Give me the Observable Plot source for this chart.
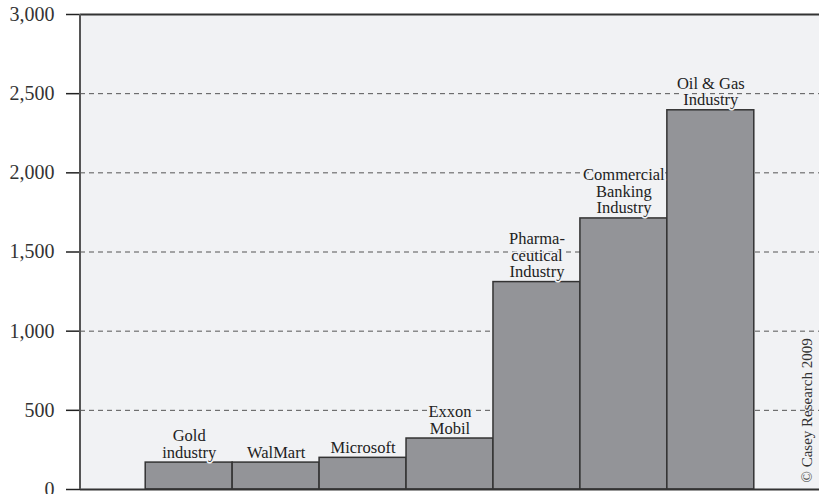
<!DOCTYPE html>
<html>
<head>
<meta charset="utf-8">
<script src="https://cdn.jsdelivr.net/npm/d3@7"></script>
<script src="https://cdn.jsdelivr.net/npm/@observablehq/plot@0.6"></script>
<style>
  html, body { margin: 0; padding: 0; background: #ffffff; }
</style>
</head>
<body>
<div id="chart"></div>
<script>
const categories = ["Gold", "WalMart", "Microsoft", "Exxon", "Pharma", "Banking", "OilGas"];
const labels = ["Gold\nindustry", "WalMart", "Microsoft", "Exxon\nMobil", "Pharma-\nceutical\nIndustry", "Commercial\nBanking\nIndustry", "Oil & Gas\nIndustry"];
const values = [170, 170, 200, 322, 1310, 1712, 2395];
const yTicks = [0, 500, 1000, 1500, 2000, 2500, 3000];
const gridValues = [500, 1000, 1500, 2000, 2500];
const credit = "© Casey Research 2009";

const data = categories.map((c, i) => ({name: c, label: labels[i], value: values[i]}));
const bg = "#f1f2f4";
const serif = "'Liberation Serif', 'DejaVu Serif', serif";

const leftLine = (index, scales, values, dims) => {
  const g = document.createElementNS("http://www.w3.org/2000/svg", "line");
  g.setAttribute("x1", dims.marginLeft);
  g.setAttribute("x2", dims.marginLeft);
  g.setAttribute("y1", dims.marginTop);
  g.setAttribute("y2", dims.height - dims.marginBottom);
  g.setAttribute("stroke", "#555");
  g.setAttribute("stroke-width", 2);
  return g;
};

const chart = Plot.plot({
  width: 819,
  height: 494,
  marginLeft: 80,
  marginRight: 0,
  marginTop: 14,
  marginBottom: 5,
  style: {fontFamily: serif, background: "#ffffff", color: "#333", overflow: "visible"},
  x: {domain: categories, paddingInner: 0, paddingOuter: 0.75, round: false, axis: null},
  y: {domain: [0, 3000], axis: null},
  marks: [
    Plot.frame({fill: bg, stroke: null}),
    Plot.ruleY(gridValues, {stroke: "#555", strokeWidth: 1, strokeDasharray: "5,4"}),
    Plot.barY(data, {x: "name", y: "value", fill: "#939498", stroke: "#333", strokeWidth: 1.5}),
    Plot.text(data, {x: "name", y: "value", text: "label", lineAnchor: "bottom", dy: -5,
      fontSize: 16.5, lineHeight: 1.0, fill: "#222", stroke: bg, strokeWidth: 3}),
    Plot.ruleY([0, 3000], {stroke: "#333", strokeWidth: 2}),
    Plot.axisY({ticks: yTicks, label: null, tickSize: 14, tickPadding: 12, tickFormat: d3.format(","),
      fontSize: 20, stroke: "#222", strokeWidth: 1.5, fill: "#333"}),
    leftLine,
    Plot.text([credit], {frameAnchor: "bottom-right", rotate: -90, textAnchor: "start",
      lineAnchor: "middle", dx: -12, dy: -7, fontSize: 15, fill: "#333"})
  ]
});
document.getElementById("chart").appendChild(chart);
</script>
</body>
</html>
